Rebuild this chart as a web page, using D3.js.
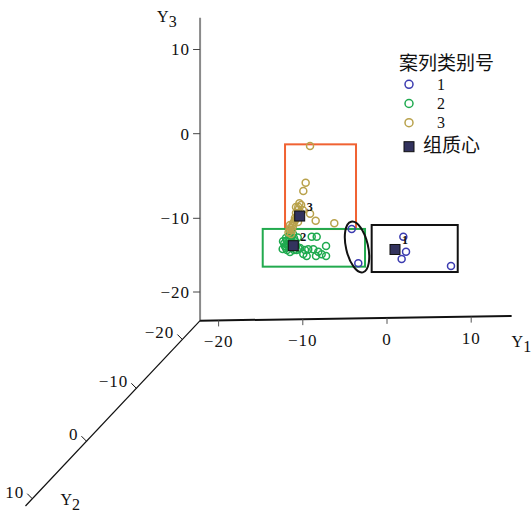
<!DOCTYPE html>
<html>
<head>
<meta charset="utf-8">
<script src="https://cdn.jsdelivr.net/npm/d3@7"></script>
<style>
  body { margin: 0; background: #fff; }
  text { font-family: "Liberation Serif", serif; fill: #111; }
  .cjk { font-family: "Noto Sans CJK SC", sans-serif; }
</style>
</head>
<body>
<div id="chart"></div>
<script>
// legend / group names
const groupNames = ["1", "2", "3"];
const groupColors = ["#3c3cb0", "#1faa4f", "#b9a24c"];
const legendTitle = "案列类别号";
const centroidLabel = "组质心";

// axis tick values
const y1Ticks = [-20, -10, 0, 10];
const y2Ticks = [-20, -10, 0, 10];
const y3Ticks = [-20, -10, 0, 10];

// cases as [Y1, Y3], all on the back plane of Y2
const backY2 = -23.9;
const group1 = [[-4.19, -11.77], [-3.41, -16.43], [1.94, -12.91], [2.26, -14.96], [1.74, -15.93], [7.6, -16.99]];
const group2 = [[-8.94, -12.73], [-8.35, -12.74], [-10.33, -14.23], [-9.74, -14.51], [-9.35, -14.41], [-8.75, -14.43],
    [-8.16, -14.77], [-7.24, -14.02], [-7.24, -15.38], [-7.76, -15.13], [-8.43, -15.36], [-9.54, -15.33],
    [-9.94, -15.06], [-10.72, -14.5], [-12.39, -14.33], [-12.35, -13.27], [-12.11, -13.95], [-11.76, -13.68],
    [-11.52, -13.15], [-11.4, -12.72], [-11.16, -12.31], [-11.05, -12.86], [-11.88, -14.49], [-11.52, -14.77],
    [-11.05, -14.5], [-12.0, -12.85], [-11.64, -14.04], [-11.28, -13.55], [-10.81, -13.9], [-11.52, -11.91],
    [-12.2, -13.6], [-11.9, -13.2], [-11.6, -12.5], [-12.0, -14.2], [-11.3, -14.2], [-10.9, -13.3],
    [-10.6, -12.8], [-10.5, -14.3]];
const group3 = [[-9.14, -1.65], [-9.66, -5.98], [-9.94, -6.96], [-10.4, -8.4], [-10.53, -8.81], [-10.6, -9.2],
    [-9.14, -9.66], [-8.47, -10.56], [-6.26, -10.95], [-10.81, -9.55], [-10.93, -10.15], [-11.05, -10.69],
    [-11.16, -11.23], [-11.28, -11.77], [-11.4, -12.31], [-10.57, -10.7], [-10.81, -8.84], [-10.45, -9.91],
    [-11.52, -11.1], [-11.01, -10.65], [-10.33, -9.43], [-10.69, -10.16], [-11.6, -11.75],
    [-10.2, -8.6], [-10.6, -9.8], [-10.9, -10.4], [-11.2, -11.0], [-11.45, -11.5], [-11.7, -12.1], [-10.0, -9.2]];
const centroids = [[0.95, -14.63], [-11.13, -13.91], [-10.37, -9.91]];

// annotation boxes [Y1 min, Y1 max, Y3 top, Y3 bottom]
const boxOrange = [-12.11, -3.68, -1.41, -11.63];
const boxGreen = [-14.76, -2.61, -11.57, -16.69];
const boxBlack = [-1.82, 8.4, -11.26, -17.64];
const ellipseCenter = [-3.56, -14.22];

const w = 531, h = 515;

let svg = d3.select("#chart").append("svg")
    .attr("width", w)
    .attr("height", h);

// axis ranges (corner of the box and far ends)
const c1 = -22.2, c2 = -23.9, c3 = -23.9;
const e1 = 14.8, e2 = 11.2, e3 = 13.8;

// scales, perspective approximated piecewise
var x1 = d3.scaleLinear().domain([-20, 10]).range([218.6, 471.2]);
var tilt1 = d3.scaleLinear().domain([c1, e1]).range([0, -4.7]);
var y2x = d3.scaleLinear().domain([c2, -20, -10, 0, 10, e2]).range([200, 182.3, 136.3, 86.4, 32.2, 25.4]);
var y2y = d3.scaleLinear().domain([c2, -20, -10, 0, 10, e2]).range([320.7, 339.5, 388.3, 441.2, 498.7, 506]);
var y3s = d3.scaleLinear().domain([c3, -20, -10, 0, 10, e3]).range([320.7, 292, 218.3, 133.7, 49.5, 17.7]);

function proj(a, b, c) {
    return [x1(a) + (y2x(b) - y2x(c2)),
            y3s(c) + tilt1(a) + (y2y(b) - y2y(c2))];
}

const fmt = d3.format("d");

// Y3 axis (vertical, grey)
let o = proj(c1, c2, c3);
let t3 = proj(c1, c2, e3);
svg.append("line")
    .attr("x1", o[0]).attr("y1", o[1]).attr("x2", t3[0]).attr("y2", t3[1])
    .attr("stroke", "#8a8a8a").attr("stroke-width", 2);
y3Ticks.forEach(function(v) {
    let p = proj(c1, c2, v);
    svg.append("line")
        .attr("x1", p[0] - 7).attr("x2", p[0]).attr("y1", p[1]).attr("y2", p[1])
        .attr("stroke", "#444").attr("stroke-width", 1);
    svg.append("text")
        .attr("x", p[0] - 10).attr("y", p[1])
        .attr("dy", "0.35em")
        .attr("text-anchor", "end")
        .attr("font-size", 17).attr("letter-spacing", 1)
        .text(fmt(v));
});

// Y1 axis
let t1 = proj(e1, c2, c3);
svg.append("line")
    .attr("x1", o[0]).attr("y1", o[1]).attr("x2", t1[0]).attr("y2", t1[1])
    .attr("stroke", "#111").attr("stroke-width", 2);
y1Ticks.forEach(function(v) {
    let p = proj(v, c2, c3);
    svg.append("line")
        .attr("x1", p[0]).attr("x2", p[0]).attr("y1", p[1]).attr("y2", p[1] + 6)
        .attr("stroke", "#555").attr("stroke-width", 1);
    svg.append("text")
        .attr("x", p[0]).attr("y", p[1] + 27)
        .attr("text-anchor", "middle")
        .attr("font-size", 17).attr("letter-spacing", 1)
        .text(fmt(v));
});

// Y2 axis (toward the viewer)
let t2 = proj(c1, e2, c3);
svg.append("line")
    .attr("x1", o[0]).attr("y1", o[1]).attr("x2", t2[0]).attr("y2", t2[1])
    .attr("stroke", "#111").attr("stroke-width", 1.2);
y2Ticks.forEach(function(v) {
    let p = proj(c1, v, c3);
    svg.append("line")
        .attr("x1", p[0]).attr("y1", p[1]).attr("x2", p[0] - 5).attr("y2", p[1] - 5)
        .attr("stroke", "#111").attr("stroke-width", 1);
    svg.append("text")
        .attr("x", p[0] - 8).attr("y", p[1] - 7)
        .attr("dy", "0.35em")
        .attr("text-anchor", "end")
        .attr("font-size", 17).attr("letter-spacing", 1)
        .text(fmt(v));
});

// axis titles with subscript
function axisTitle(x, y, sub) {
    let t = svg.append("text").attr("x", x).attr("y", y).attr("font-size", 16);
    t.append("tspan").text("Y");
    t.append("tspan").attr("dy", 5).attr("font-size", 16).text(sub);
}
axisTitle(t3[0] - 43, t3[1] + 4, "3");
axisTitle(t1[0], t1[1] + 31, "1");
axisTitle(t2[0] + 35, t2[1] - 1, "2");

// annotation boxes
function drawBox(b, color) {
    let p0 = proj(b[0], backY2, b[2]);
    let p1 = proj(b[1], backY2, b[2]);
    let p2 = proj(b[0], backY2, b[3]);
    svg.append("rect")
        .attr("x", p0[0]).attr("y", p0[1])
        .attr("width", p1[0] - p0[0]).attr("height", p2[1] - p0[1])
        .attr("fill", "none").attr("stroke", color).attr("stroke-width", 2);
}
drawBox(boxOrange, "#f06232");
drawBox(boxGreen, "#22aa4e");
drawBox(boxBlack, "#111");

let ec = proj(ellipseCenter[0], backY2, ellipseCenter[1]);
svg.append("ellipse")
    .attr("cx", 0).attr("cy", 0).attr("rx", 11).attr("ry", 26)
    .attr("transform", "translate(" + ec[0] + "," + ec[1] + ") rotate(-13)")
    .attr("fill", "none").attr("stroke", "#111").attr("stroke-width", 2);

// case points
[group1, group2, group3].forEach(function(g, i) {
    svg.append("g").selectAll("circle")
        .data(g)
        .join("circle")
        .attr("cx", d => proj(d[0], backY2, d[1])[0])
        .attr("cy", d => proj(d[0], backY2, d[1])[1])
        .attr("r", 3.5)
        .attr("fill", "none")
        .attr("stroke", groupColors[i])
        .attr("stroke-width", 1.5);
});

// group centroids
centroids.forEach(function(d, i) {
    let p = proj(d[0], backY2, d[1]);
    svg.append("rect")
        .attr("x", p[0] - 5).attr("y", p[1] - 5)
        .attr("width", 10).attr("height", 10)
        .attr("fill", "#33335e").attr("stroke", "#111").attr("stroke-width", 1);
    svg.append("text")
        .attr("x", p[0] + 7).attr("y", p[1] - 5)
        .attr("font-family", "Liberation Sans, sans-serif")
        .attr("font-weight", "bold")
        .attr("font-size", 12)
        .text(groupNames[i]);
});

// legend
let lg = svg.append("g");
lg.append("text")
    .attr("class", "cjk")
    .attr("x", 399).attr("y", 70)
    .attr("font-size", 19)
    .text(legendTitle);
groupNames.forEach(function(n, i) {
    let yy = 84.3 + i * 19.2;
    lg.append("circle")
        .attr("cx", 409).attr("cy", yy).attr("r", 4)
        .attr("fill", "none").attr("stroke", groupColors[i]).attr("stroke-width", 1.5);
    lg.append("text")
        .attr("x", 441).attr("y", yy)
        .attr("dy", "0.35em")
        .attr("text-anchor", "middle")
        .attr("font-size", 16)
        .text(n);
});
lg.append("rect")
    .attr("x", 404).attr("y", 141.7).attr("width", 10).attr("height", 10)
    .attr("fill", "#33335e").attr("stroke", "#111").attr("stroke-width", 1);
lg.append("text")
    .attr("class", "cjk")
    .attr("x", 423).attr("y", 152)
    .attr("font-size", 19)
    .text(centroidLabel);
</script>
</body>
</html>
